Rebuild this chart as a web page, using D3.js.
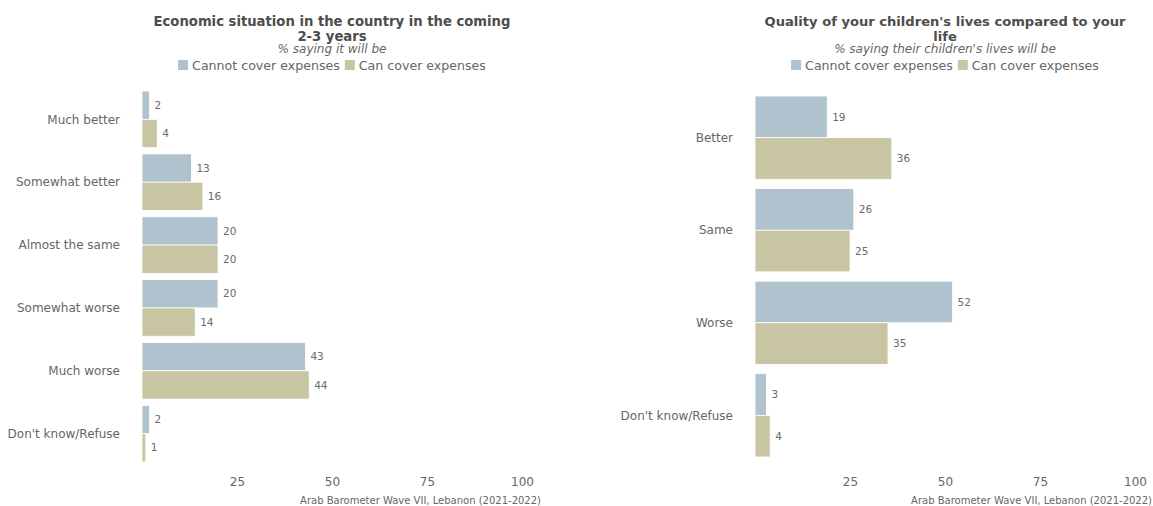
<!DOCTYPE html>
<html><head><meta charset="utf-8">
<script src="https://cdn.jsdelivr.net/npm/d3@7"></script>
<style>body{margin:0;background:#fff}svg{display:block}</style>
</head><body><svg id="c" width="1153" height="506"></svg>
<script>
const seriesNames = ["Cannot cover expenses", "Can cover expenses"];
const seriesColors = ["#b0c2ce", "#c8c5a3"];
const tickValues = [25, 50, 75, 100];
const captionText = "Arab Barometer Wave VII, Lebanon (2021-2022)";

const leftTitle = ["Economic situation in the country in the coming", "2-3 years"];
const leftSubtitle = "% saying it will be";
const leftCats = ["Much better", "Somewhat better", "Almost the same", "Somewhat worse", "Much worse", "Don't know/Refuse"];
const leftCannot = [2, 13, 20, 20, 43, 2];
const leftCan = [4, 16, 20, 14, 44, 1];

const rightTitle = ["Quality of your children's lives compared to your", "life"];
const rightSubtitle = "% saying their children's lives will be";
const rightCats = ["Better", "Same", "Worse", "Don't know/Refuse"];
const rightCannot = [19, 26, 52, 3];
const rightCan = [36, 25, 35, 4];

const FONT = "'DejaVu Sans', sans-serif";
const svg = d3.select("#c");

function panel(cfg) {
  const g = svg.append("g");
  const x = d3.scaleLinear().domain([0, 100]).range([cfg.x0, cfg.x1]);
  const y = d3.scaleBand().domain(cfg.cats).range(cfg.yr).paddingInner(0.1).paddingOuter(0.05);
  const sub = d3.scaleBand().domain(seriesNames).range([0, y.bandwidth()]);
  const cx = (cfg.x0 + cfg.x1) / 2;

  // title
  cfg.title.forEach((t, i) => {
    g.append("text").attr("x", cx).attr("y", 26 + i * 14.5)
      .attr("text-anchor", "middle").attr("font-family", FONT)
      .attr("font-weight", "bold").attr("font-size", cfg.titleSize).attr("fill", "#4d4d4d").text(t);
  });
  g.append("text").attr("x", cx).attr("y", 53).attr("text-anchor", "middle")
    .attr("font-family", FONT).attr("font-style", "italic").attr("font-size", 12)
    .attr("fill", "#666").text(cfg.subtitle);

  // legend
  const lg = g.append("g");
  let lx = 0;
  seriesNames.forEach((s, i) => {
    lg.append("rect").attr("x", lx).attr("y", 60).attr("width", 10).attr("height", 10).attr("fill", seriesColors[i]);
    const t = lg.append("text").attr("x", lx + 14).attr("y", 70).attr("font-family", FONT)
      .attr("font-size", 12.6).attr("fill", "#666").text(s);
    lx += 14 + t.node().getComputedTextLength() + 5;
  });
  lg.attr("transform", `translate(${cx - (lx - 5) / 2},0)`);

  const rows = cfg.cats.map((c, i) => ({c, v: [cfg.cannot[i], cfg.can[i]]}));
  const grp = g.selectAll("g.row").data(rows).join("g").attr("class", "row")
    .attr("transform", d => `translate(0,${y(d.c)})`);
  grp.selectAll("rect").data(d => d.v.map((v, i) => ({v, s: seriesNames[i], i})))
    .join("rect").attr("x", x(0)).attr("y", d => sub(d.s))
    .attr("width", d => x(d.v) - x(0)).attr("height", sub.bandwidth())
    .attr("fill", d => seriesColors[d.i]).attr("stroke", "#fff").attr("stroke-width", 0.8);
  grp.selectAll("text.val").data(d => d.v.map((v, i) => ({v, s: seriesNames[i]})))
    .join("text").attr("class", "val").attr("x", d => x(d.v) + 5)
    .attr("y", d => sub(d.s) + sub.bandwidth() / 2).attr("dy", "0.35em")
    .attr("font-family", FONT).attr("font-size", 10.5).attr("fill", "#6a6a6a").text(d => d.v);

  // category axis
  g.selectAll("text.cat").data(cfg.cats).join("text").attr("class", "cat")
    .attr("x", cfg.labelX).attr("y", d => y(d) + y.bandwidth() / 2).attr("dy", "0.35em")
    .attr("text-anchor", "end").attr("font-family", FONT).attr("font-size", 12).attr("fill", "#666").text(d => d);

  // x axis
  const ax = g.append("g").attr("transform", `translate(0,${cfg.axisY})`)
    .call(d3.axisBottom(x).tickValues(tickValues).tickSize(0).tickPadding(0));
  ax.select(".domain").remove();
  ax.selectAll("text").attr("font-family", FONT).attr("font-size", 12).attr("fill", "#666").attr("dy", "0");

  g.append("text").attr("x", cfg.capX).attr("y", 504).attr("text-anchor", "end")
    .attr("font-family", FONT).attr("font-size", 10).attr("fill", "#666").text(captionText);
}

panel({x0: 142, x1: 522, yr: [87.9, 465.1], cats: leftCats, cannot: leftCannot, can: leftCan,
  title: leftTitle, subtitle: leftSubtitle, labelX: 120, axisY: 486, capX: 541, titleSize: 13.2});
panel({x0: 755, x1: 1135, yr: [91.4, 461.6], cats: rightCats, cannot: rightCannot, can: rightCan,
  title: rightTitle, subtitle: rightSubtitle, labelX: 733, axisY: 486, capX: 1152, titleSize: 13.1});
</script></body></html>
